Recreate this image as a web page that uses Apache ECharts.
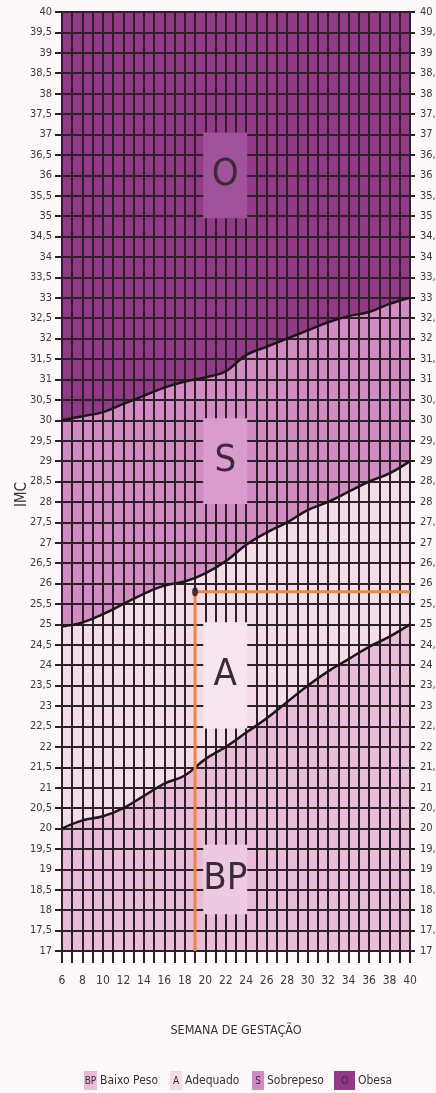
<!DOCTYPE html>
<html><head><meta charset="utf-8">
<script src="https://cdn.jsdelivr.net/npm/echarts@6/dist/echarts.min.js"></script>
<style>html,body{margin:0;padding:0;background:#fdf8fa;overflow:hidden}#c{width:436px;height:1093px;display:block}</style>
</head><body><div id="c"></div>
<script>
// ---- data ----
const weeks = [6, 8, 10, 12, 14, 16, 18, 20, 22, 24, 26, 28, 30, 32, 34, 36, 38, 40];
// upper limit of "Sobrepeso" (boundary with "Obesa")
const sobrepesoLimit = [30.0, 30.1, 30.2, 30.4, 30.6, 30.8, 30.95, 31.05, 31.2, 31.6, 31.8, 32.0, 32.2, 32.4, 32.55, 32.65, 32.85, 33.0];
// upper limit of "Adequado" (boundary with "Sobrepeso")
const adequadoLimit = [24.95, 25.05, 25.25, 25.5, 25.75, 25.95, 26.05, 26.25, 26.55, 26.95, 27.25, 27.5, 27.8, 28.0, 28.25, 28.5, 28.7, 29.0];
// upper limit of "Baixo Peso" (boundary with "Adequado")
const baixoPesoLimit = [20.0, 20.2, 20.3, 20.5, 20.8, 21.1, 21.3, 21.7, 22.0, 22.35, 22.7, 23.1, 23.5, 23.85, 24.15, 24.45, 24.7, 25.0];
const imcMin = 17, imcMax = 40, imcStep = 0.5;
const weekMin = 6, weekMax = 40;
const exampleWeek = 19, exampleIMC = 25.8;
const classCodes = ['BP', 'A', 'S', 'O'];
const classNames = ['Baixo Peso', 'Adequado', 'Sobrepeso', 'Obesa'];
const classLabelWeeks = [19.8, 24.1];
const classLabelIMC = [[19.6, 17.9], [25.05, 22.45], [30.05, 27.95], [37.05, 34.95]];

// ---- styles ----
const regionColors = ['#e8bcd8', '#f3dce8', '#d28cc3', '#923987'];
const boxColors = ['#eccbe1', '#f7e6ee', '#d99ccd', '#a0539a'];
const gridColor = '#2d2128';
const narrow = '"DejaVu Sans Condensed", "Liberation Sans", "Noto Sans", sans-serif';

const pairs = arr => weeks.map((w, i) => [w, arr[i]]);
const fmt = v => String(v).replace('.', ',');

function fillSeries(arr, color, z) {
  return { type: 'line', data: pairs(arr), smooth: 0.4, symbol: 'none', z: z,
    lineStyle: { width: 0 }, areaStyle: { color: color, opacity: 1, origin: 'start' }, silent: true };
}
function curveSeries(arr) {
  return { type: 'line', data: pairs(arr), smooth: 0.4, symbol: 'none', z: 6,
    lineStyle: { width: 2.5, color: '#1e1519' }, silent: true };
}

const chart = echarts.init(document.getElementById('c'), null, { renderer: 'canvas', width: 436, height: 1093 });

const legendX = [84, 170, 252, 334];
const legendW = [13, 12, 12, 21];
const graphics = [
  { type: 'text', left: 15, top: 482, rotation: Math.PI / 2,
    style: { text: 'IMC', font: '15px ' + narrow, fill: '#333' } },
];
classCodes.forEach((c, i) => {
  graphics.push({ type: 'rect', shape: { x: legendX[i], y: 1071, width: legendW[i], height: 19 },
    style: { fill: regionColors[i] } });
  graphics.push({ type: 'text', x: legendX[i] + legendW[i] / 2, y: 1081,
    style: { text: c, font: '10px ' + narrow, fill: '#3a2a35', align: 'center', verticalAlign: 'middle' } });
  graphics.push({ type: 'text', x: legendX[i] + legendW[i] + 3, y: 1081,
    style: { text: classNames[i], font: '12px ' + narrow, fill: '#333', align: 'left', verticalAlign: 'middle' } });
});

chart.setOption({
  backgroundColor: '#fdf8fa',
  animation: false,
  grid: { left: 62, right: 26, top: 12, bottom: 142, outerBoundsMode: 'none', containLabel: false,
    show: true, backgroundColor: regionColors[3], borderWidth: 0 },
  xAxis: {
    type: 'value', min: weekMin, max: weekMax, interval: 1, z: 5,
    name: 'SEMANA DE GESTAÇÃO', nameLocation: 'middle', nameGap: 73,
    nameTextStyle: { fontFamily: narrow, fontSize: 12.5, color: '#333' },
    axisLine: { show: true, lineStyle: { color: gridColor, width: 2 } },
    axisTick: { show: true, length: 12, lineStyle: { color: gridColor, width: 2 } },
    axisLabel: { margin: 24, fontFamily: narrow, fontSize: 12, color: '#3a3a3a',
      formatter: v => (v % 2 === 0 ? String(v) : '') },
    splitLine: { show: true, lineStyle: { color: gridColor, width: 2 } }
  },
  yAxis: [
    { type: 'value', min: imcMin, max: imcMax, interval: imcStep, position: 'left', z: 5,
      axisLine: { show: true, lineStyle: { color: gridColor, width: 2 } },
      axisTick: { show: true, length: 7, lineStyle: { color: gridColor, width: 2 } },
      axisLabel: { margin: 10, fontFamily: narrow, fontSize: 11, color: '#3a3a3a', formatter: fmt },
      splitLine: { show: true, lineStyle: { color: gridColor, width: 2 } } },
    { type: 'value', min: imcMin, max: imcMax, interval: imcStep, position: 'right', z: 5,
      axisLine: { show: true, lineStyle: { color: gridColor, width: 2 } },
      axisTick: { show: true, length: 5, lineStyle: { color: gridColor, width: 2 } },
      axisLabel: { margin: 10, fontFamily: narrow, fontSize: 11, color: '#3a3a3a', formatter: fmt },
      splitLine: { show: false } }
  ],
  series: [
    fillSeries(sobrepesoLimit, regionColors[2], 1),
    fillSeries(adequadoLimit, regionColors[1], 2),
    fillSeries(baixoPesoLimit, regionColors[0], 3),
    curveSeries(sobrepesoLimit),
    curveSeries(adequadoLimit),
    curveSeries(baixoPesoLimit),
    { type: 'line', data: [], z: 7, silent: true,
      markArea: { silent: true, z: 7,
        data: classCodes.map((c, i) => [
          { name: c, xAxis: classLabelWeeks[0], yAxis: classLabelIMC[i][0], itemStyle: { color: boxColors[i], opacity: 1 } },
          { xAxis: classLabelWeeks[1], yAxis: classLabelIMC[i][1] }
        ]),
        label: { show: true, position: 'inside', fontFamily: narrow, fontSize: 38, color: '#3b2b36' } } },
    { type: 'line', data: [[exampleWeek, imcMin], [exampleWeek, exampleIMC], [weekMax, exampleIMC]],
      symbol: 'none', z: 8, silent: true, lineStyle: { color: '#f2873a', width: 3 } },
    { type: 'scatter', data: [[exampleWeek, exampleIMC]], symbol: 'circle', symbolSize: [6, 9], z: 9,
      itemStyle: { color: '#1e1519' }, silent: true }
  ],
  graphic: graphics
});
</script></body></html>
